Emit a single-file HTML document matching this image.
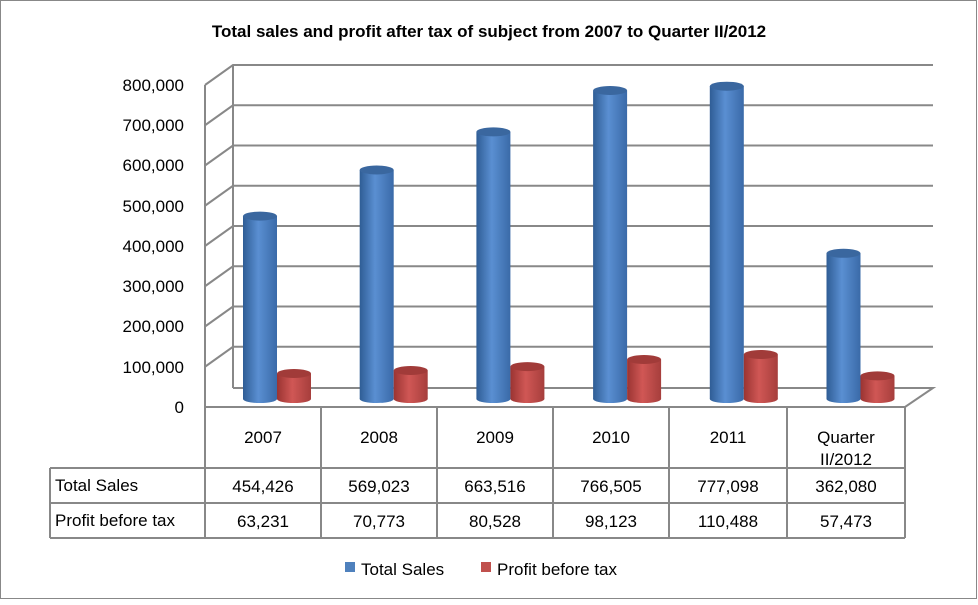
<!DOCTYPE html>
<html><head><meta charset="utf-8"><style>
body{margin:0;background:#fff}
svg text{font-family:"Liberation Sans",sans-serif;fill:#000}
</style></head><body>
<svg width="978" height="600" viewBox="0 0 978 600" xmlns="http://www.w3.org/2000/svg">
<defs>
<linearGradient id="gb" x1="0" x2="1"><stop offset="0" stop-color="#2f5d95"/><stop offset="0.45" stop-color="#5a8fd2"/><stop offset="1" stop-color="#3a6aa8"/></linearGradient>
<linearGradient id="gr" x1="0" x2="1"><stop offset="0" stop-color="#9a3432"/><stop offset="0.45" stop-color="#d05755"/><stop offset="1" stop-color="#a63e3c"/></linearGradient>
</defs>
<rect x="0.5" y="0.5" width="976" height="598" fill="#fff" stroke="#888"/>
<text x="489" y="37" font-size="17" font-weight="bold" text-anchor="middle">Total sales and profit after tax of subject from 2007 to Quarter II/2012</text>
<g stroke="#888" stroke-width="2" fill="none">
<path d="M233,65 L233,388"/>
<path d="M233,388 L933,388 L905,407 L205,407"/>
<path d="M205,85 L205,407"/>
<path d="M205,366.75 L233,346.75 L933,346.75"/>
<path d="M205,326.5 L233,306.5 L933,306.5"/>
<path d="M205,286.25 L233,266.25 L933,266.25"/>
<path d="M205,246 L233,226 L933,226"/>
<path d="M205,205.75 L233,185.75 L933,185.75"/>
<path d="M205,165.5 L233,145.5 L933,145.5"/>
<path d="M205,125.25 L233,105.25 L933,105.25"/>
<path d="M205,85 L233,65 L933,65"/>
</g>
<g font-size="17" text-anchor="end">
<text x="184" y="413">0</text><text x="184" y="373">100,000</text><text x="184" y="332">200,000</text><text x="184" y="292">300,000</text><text x="184" y="252">400,000</text><text x="184" y="212">500,000</text><text x="184" y="171">600,000</text><text x="184" y="131">700,000</text><text x="184" y="91">800,000</text>
</g>
<g>
<rect x="243" y="216.1" width="34" height="182.9" fill="url(#gb)"/><ellipse cx="260" cy="399" rx="17" ry="4" fill="url(#gb)"/><ellipse cx="260" cy="216.1" rx="17" ry="4.5" fill="#3a679f"/>
<rect x="359.7" y="170" width="34" height="229" fill="url(#gb)"/><ellipse cx="376.7" cy="399" rx="17" ry="4" fill="url(#gb)"/><ellipse cx="376.7" cy="170" rx="17" ry="4.5" fill="#3a679f"/>
<rect x="476.4" y="131.9" width="34" height="267.1" fill="url(#gb)"/><ellipse cx="493.4" cy="399" rx="17" ry="4" fill="url(#gb)"/><ellipse cx="493.4" cy="131.9" rx="17" ry="4.5" fill="#3a679f"/>
<rect x="593.1" y="90.5" width="34" height="308.5" fill="url(#gb)"/><ellipse cx="610.1" cy="399" rx="17" ry="4" fill="url(#gb)"/><ellipse cx="610.1" cy="90.5" rx="17" ry="4.5" fill="#3a679f"/>
<rect x="709.8" y="86.2" width="34" height="312.8" fill="url(#gb)"/><ellipse cx="726.8" cy="399" rx="17" ry="4" fill="url(#gb)"/><ellipse cx="726.8" cy="86.2" rx="17" ry="4.5" fill="#3a679f"/>
<rect x="826.5" y="253.3" width="34" height="145.7" fill="url(#gb)"/><ellipse cx="843.5" cy="399" rx="17" ry="4" fill="url(#gb)"/><ellipse cx="843.5" cy="253.3" rx="17" ry="4.5" fill="#3a679f"/>

<rect x="277" y="373.5" width="34" height="25.5" fill="url(#gr)"/><ellipse cx="294" cy="399" rx="17" ry="4" fill="url(#gr)"/><ellipse cx="294" cy="373.5" rx="17" ry="4.5" fill="#a13b39"/>
<rect x="393.7" y="370.5" width="34" height="28.5" fill="url(#gr)"/><ellipse cx="410.7" cy="399" rx="17" ry="4" fill="url(#gr)"/><ellipse cx="410.7" cy="370.5" rx="17" ry="4.5" fill="#a13b39"/>
<rect x="510.4" y="366.6" width="34" height="32.4" fill="url(#gr)"/><ellipse cx="527.4" cy="399" rx="17" ry="4" fill="url(#gr)"/><ellipse cx="527.4" cy="366.6" rx="17" ry="4.5" fill="#a13b39"/>
<rect x="627.1" y="359.5" width="34" height="39.5" fill="url(#gr)"/><ellipse cx="644.1" cy="399" rx="17" ry="4" fill="url(#gr)"/><ellipse cx="644.1" cy="359.5" rx="17" ry="4.5" fill="#a13b39"/>
<rect x="743.8" y="354.5" width="34" height="44.5" fill="url(#gr)"/><ellipse cx="760.8" cy="399" rx="17" ry="4" fill="url(#gr)"/><ellipse cx="760.8" cy="354.5" rx="17" ry="4.5" fill="#a13b39"/>
<rect x="860.5" y="375.9" width="34" height="23.1" fill="url(#gr)"/><ellipse cx="877.5" cy="399" rx="17" ry="4" fill="url(#gr)"/><ellipse cx="877.5" cy="375.9" rx="17" ry="4.5" fill="#a13b39"/>
</g>
<g stroke="#888" stroke-width="2" fill="none">
<path d="M205,407 L205,538 M50,468 L905,468 M50,503 L905,503 M50,538 L905,538 M50,468 L50,538 M905,407 L905,538"/>
<path d="M321,407 V538 M437,407 V538 M553,407 V538 M669,407 V538 M787,407 V538"/>
</g>
<g font-size="17" text-anchor="middle">
<text x="263" y="443">2007</text><text x="379" y="443">2008</text><text x="495" y="443">2009</text><text x="611" y="443">2010</text><text x="728" y="443">2011</text>
<text x="846" y="443">Quarter</text><text x="846" y="465">II/2012</text>
<text x="263" y="492">454,426</text><text x="379" y="492">569,023</text><text x="495" y="492">663,516</text><text x="611" y="492">766,505</text><text x="728" y="492">777,098</text><text x="846" y="492">362,080</text>
<text x="263" y="527">63,231</text><text x="379" y="527">70,773</text><text x="495" y="527">80,528</text><text x="611" y="527">98,123</text><text x="728" y="527">110,488</text><text x="846" y="527">57,473</text>
</g>
<g font-size="17"><text x="55" y="491">Total Sales</text><text x="55" y="526">Profit before tax</text></g>
<rect x="345" y="562" width="10" height="10" fill="#4f81bd"/>
<text x="361" y="575" font-size="17">Total Sales</text>
<rect x="481" y="562" width="10" height="10" fill="#c0504d"/>
<text x="497" y="575" font-size="17">Profit before tax</text>
</svg>
</body></html>
